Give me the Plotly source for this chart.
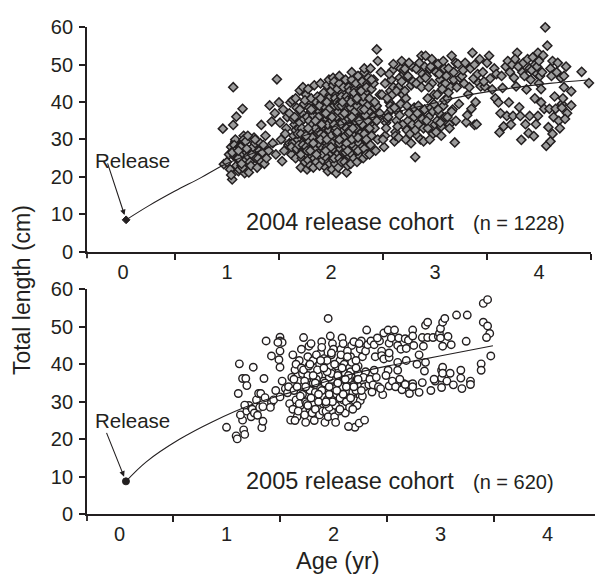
import plotly.graph_objects as go

# ---------------- data ----------------
AGE_2004 = [
    0.97, 1.05, 0.96, 1.06, 1.00, 1.02, 1.04, 1.03, 1.07, 1.08,
    1.04, 1.06, 1.08, 1.09, 1.10, 1.11, 1.05, 1.07, 1.09, 1.06,
    1.12, 1.13, 1.14, 1.10, 1.15, 1.16, 1.11, 1.14, 1.15, 1.12,
    1.17, 1.18, 1.19, 1.13, 1.16, 1.20, 1.11, 1.15, 1.18, 1.14,
    1.21, 1.22, 1.24, 1.25, 1.26, 1.28, 1.19, 1.23, 1.27, 1.20,
    1.29, 1.30, 1.31, 1.32, 1.33, 1.34, 1.35, 1.27, 1.33, 1.36,
    1.43, 1.41, 1.38, 1.40, 1.44, 1.46, 1.50, 1.48, 1.47, 1.37,
    1.53, 1.55, 1.52, 1.57, 1.58, 1.59, 1.56, 1.54, 1.60, 1.51,
    1.61, 1.62, 1.63, 1.64, 1.65, 1.60, 1.62, 1.66, 1.64, 1.63,
    1.70, 1.66, 1.67, 1.68, 1.69, 1.65, 1.67, 1.69, 1.68, 1.66,
    1.71, 1.72, 1.73, 1.74, 1.75, 1.70, 1.72, 1.74, 1.76, 1.73,
    1.75, 1.71, 1.73, 1.76, 1.72, 1.74, 1.70, 1.75, 1.71, 1.76,
    1.77, 1.78, 1.79, 1.80, 1.81, 1.82, 1.77, 1.79, 1.81, 1.78,
    1.80, 1.82, 1.76, 1.78, 1.80, 1.79, 1.81, 1.77, 1.82, 1.79,
    1.83, 1.84, 1.85, 1.86, 1.87, 1.88, 1.83, 1.85, 1.87, 1.84,
    1.86, 1.88, 1.84, 1.82, 1.85, 1.87, 1.83, 1.86, 1.88, 1.84,
    1.89, 1.90, 1.91, 1.92, 1.93, 1.94, 1.89, 1.91, 1.93, 1.90,
    1.92, 1.94, 1.88, 1.90, 1.93, 1.91, 1.89, 1.94, 1.92, 1.90,
    1.95, 1.96, 1.97, 1.98, 1.99, 2.00, 1.95, 1.97, 1.99, 1.96,
    1.98, 2.00, 1.96, 1.94, 1.97, 1.99, 1.95, 1.98, 2.00, 1.96,
    1.97, 1.99, 1.95, 1.98, 1.96, 2.00, 1.98, 1.95, 1.97, 1.99,
    2.01, 2.02, 2.03, 2.04, 2.05, 2.06, 2.01, 2.03, 2.05, 2.02,
    2.04, 2.06, 2.02, 2.00, 2.03, 2.05, 2.01, 2.04, 2.06, 2.02,
    2.03, 2.05, 2.01, 2.06, 2.02, 2.04, 2.00, 2.05, 2.03, 2.01,
    2.07, 2.08, 2.09, 2.10, 2.11, 2.12, 2.07, 2.09, 2.11, 2.08,
    2.10, 2.12, 2.08, 2.06, 2.09, 2.11, 2.07, 2.10, 2.12, 2.08,
    2.15, 2.13, 2.14, 2.15, 2.16, 2.17, 2.18, 2.13, 2.15, 2.17,
    2.16, 2.18, 2.14, 2.12, 2.15, 2.17, 2.13, 2.16, 2.18, 2.14,
    2.19, 2.20, 2.21, 2.22, 2.23, 2.24, 2.19, 2.21, 2.23, 2.20,
    2.22, 2.24, 2.20, 2.18, 2.21, 2.23, 2.19, 2.22, 2.24, 2.20,
    2.25, 2.26, 2.27, 2.28, 2.29, 2.30, 2.25, 2.27, 2.29, 2.26,
    2.28, 2.30, 2.26, 2.24, 2.27, 2.29, 2.25, 2.28, 2.30, 2.26,
    2.31, 2.32, 2.33, 2.34, 2.35, 2.36, 2.31, 2.33, 2.35, 2.32,
    2.34, 2.36, 2.32, 2.30, 2.33, 2.35, 2.31, 2.34, 2.36, 2.32,
    2.37, 2.38, 2.39, 2.40, 2.41, 2.42, 2.37, 2.39, 2.41, 2.38,
    2.43, 2.45, 2.42, 2.46, 2.44, 2.47, 2.41, 2.48, 2.44, 2.45,
    1.78, 1.83, 1.88, 1.93, 1.98, 2.03, 2.08, 2.13, 2.18, 2.23,
    1.80, 1.85, 1.90, 1.95, 2.00, 2.05, 2.10, 2.15, 2.20, 2.25,
    1.76, 1.81, 1.86, 1.91, 1.96, 2.01, 2.06, 2.11, 2.16, 2.21,
    2.27, 2.32, 2.37, 2.42, 2.47, 2.29, 2.34, 2.39, 2.44, 2.49,
    2.51, 2.52, 2.53, 2.55, 2.56, 2.57, 2.58, 2.59, 2.60, 2.54,
    2.50, 2.53, 2.55, 2.57, 2.59, 2.52, 2.56, 2.58, 2.54, 2.60,
    2.61, 2.62, 2.63, 2.64, 2.65, 2.66, 2.67, 2.68, 2.69, 2.70,
    2.62, 2.64, 2.66, 2.68, 2.70, 2.61, 2.63, 2.65, 2.67, 2.69,
    2.71, 2.72, 2.73, 2.74, 2.75, 2.76, 2.77, 2.78, 2.79, 2.80,
    2.72, 2.74, 2.76, 2.78, 2.80, 2.71, 2.73, 2.75, 2.77, 2.79,
    2.81, 2.82, 2.83, 2.84, 2.85, 2.86, 2.87, 2.88, 2.89, 2.90,
    2.82, 2.84, 2.86, 2.88, 2.90, 2.81, 2.83, 2.85, 2.87, 2.89,
    2.91, 2.92, 2.93, 2.94, 2.95, 2.96, 2.97, 2.98, 2.99, 3.00,
    2.92, 2.94, 2.96, 2.98, 3.00, 2.91, 2.93, 2.95, 2.97, 2.99,
    3.01, 3.02, 3.03, 3.04, 3.05, 3.06, 3.07, 3.08, 3.09, 3.10,
    3.02, 3.04, 3.06, 3.08, 3.10, 3.03, 3.05, 3.07, 3.09, 3.01,
    3.11, 3.12, 3.13, 3.14, 3.15, 3.16, 3.17, 3.18, 3.19, 3.20,
    3.12, 3.14, 3.16, 3.18, 3.20, 3.22, 3.24, 3.21, 3.23, 3.13,
    3.26, 3.28, 3.30, 3.32, 3.34, 3.36, 3.38, 3.35, 3.29, 3.33,
    3.27, 3.31, 3.37, 3.40, 3.42, 3.44, 3.38, 3.41, 3.39, 3.43,
    3.46, 3.48, 3.50, 3.52, 3.53, 3.55, 3.57, 3.58, 3.47, 3.59,
    3.61, 3.62, 3.63, 3.65, 3.66, 3.68, 3.69, 3.70, 3.71, 3.64,
    3.72, 3.73, 3.74, 3.75, 3.76, 3.78, 3.79, 3.80, 3.81, 3.77,
    3.82, 3.83, 3.84, 3.85, 3.86, 3.87, 3.88, 3.89, 3.90, 3.91,
    3.92, 3.93, 3.94, 3.95, 3.96, 3.97, 3.98, 3.99, 4.00, 3.91,
    3.96, 3.98, 4.00, 4.01, 4.02, 4.03, 4.04, 4.05, 3.99, 4.02,
    4.06, 4.07, 4.08, 4.09, 4.10, 4.11, 4.12, 4.13, 4.14, 4.15,
    4.16, 4.17, 4.18, 4.19, 4.20, 4.21, 4.22, 4.24, 4.11, 4.13,
    4.27, 4.31, 4.31, 4.41, 4.48, 4.25, 4.23, 4.26, 4.22, 4.24,
]
LEN_2004 = [
    23.4, 19.3, 32.9, 44.0, 24.0, 26.0, 28.0, 22.0, 25.5, 29.5,
    20.5, 27.0, 30.0, 23.0, 25.0, 21.5, 26.5, 28.5, 36.1, 33.9,
    22.0, 24.0, 26.0, 27.5, 29.0, 31.0, 25.0, 23.0, 38.2, 28.0,
    21.0, 24.5, 26.5, 28.0, 30.0, 25.5, 27.0, 22.5, 29.5, 23.5,
    21.2, 24.0, 26.0, 28.0, 30.5, 25.0, 27.5, 23.0, 29.0, 31.0,
    22.5, 25.0, 27.0, 29.0, 24.0, 26.5, 28.5, 30.0, 33.9, 23.5,
    34.8, 39.1, 25.0, 27.0, 29.0, 37.0, 39.9, 46.1, 26.0, 31.0,
    24.2, 27.0, 30.0, 33.0, 36.0, 28.5, 31.5, 38.0, 29.0, 34.5,
    39.9, 26.0, 29.0, 31.0, 34.0, 37.0, 28.0, 32.5, 35.5, 40.5,
    43.1, 25.0, 27.5, 30.0, 33.0, 36.0, 38.5, 28.5, 31.5, 41.0,
    22.5, 25.0, 27.0, 29.5, 32.0, 34.5, 37.0, 39.5, 42.0, 44.0,
    24.0, 26.0, 28.5, 30.5, 33.0, 35.5, 38.0, 40.5, 31.5, 27.5,
    22.0, 24.5, 26.5, 29.0, 31.0, 33.5, 36.0, 38.5, 41.0, 43.5,
    23.0, 25.5, 28.0, 30.0, 32.5, 35.0, 37.5, 27.0, 34.0, 29.5,
    22.5, 25.0, 27.0, 29.5, 31.5, 34.0, 36.5, 39.0, 41.5, 44.5,
    24.0, 26.5, 28.5, 30.5, 33.0, 35.5, 38.0, 40.0, 32.0, 27.5,
    23.0, 25.5, 28.0, 30.0, 32.5, 35.0, 37.5, 40.0, 42.5, 45.0,
    24.5, 27.0, 29.0, 31.5, 34.0, 36.5, 39.0, 33.0, 26.0, 41.0,
    22.5, 25.0, 27.5, 30.0, 32.0, 34.5, 37.0, 39.5, 42.0, 44.5,
    24.0, 26.5, 29.0, 31.0, 33.5, 36.0, 38.5, 41.0, 35.0, 28.0,
    21.5, 23.5, 30.5, 32.5, 40.0, 43.0, 46.0, 27.0, 34.0, 37.5,
    22.0, 24.5, 27.0, 29.5, 32.0, 34.5, 37.0, 39.5, 42.0, 44.5,
    23.5, 26.0, 28.5, 31.0, 33.5, 36.0, 38.5, 41.0, 43.5, 46.5,
    25.0, 30.0, 35.0, 40.0, 27.5, 32.5, 37.5, 21.0, 45.5, 29.0,
    22.5, 25.0, 27.5, 30.0, 32.5, 35.0, 37.5, 40.0, 42.5, 45.0,
    24.0, 26.5, 29.0, 31.5, 34.0, 36.5, 39.0, 41.5, 44.0, 47.0,
    21.2, 24.0, 26.5, 29.0, 31.5, 34.0, 36.5, 39.0, 41.5, 44.0,
    23.0, 25.5, 28.0, 30.5, 33.0, 35.5, 38.0, 40.5, 43.0, 46.0,
    23.5, 26.0, 28.5, 31.0, 33.5, 36.0, 38.5, 41.0, 43.5, 46.0,
    25.0, 27.5, 30.0, 32.5, 35.0, 37.5, 40.0, 42.5, 45.0, 48.0,
    24.0, 26.5, 29.0, 31.5, 34.0, 36.5, 39.0, 41.5, 44.0, 47.0,
    25.5, 28.0, 30.5, 33.0, 35.5, 38.0, 40.5, 43.0, 45.5, 27.0,
    25.0, 27.5, 30.0, 32.5, 35.0, 37.5, 40.0, 42.5, 45.0, 48.0,
    26.0, 29.0, 31.5, 34.0, 36.5, 39.0, 41.5, 44.0, 46.5, 49.0,
    26.0, 28.5, 31.0, 33.5, 36.0, 38.5, 41.0, 43.5, 46.0, 49.0,
    27.0, 30.0, 33.0, 36.0, 39.0, 42.0, 45.0, 48.0, 54.1, 51.0,
    33.0, 29.0, 36.0, 31.0, 38.0, 34.0, 30.0, 37.0, 32.0, 35.0,
    27.0, 35.0, 30.0, 37.0, 28.0, 33.0, 39.0, 29.0, 36.0, 41.0,
    31.0, 38.0, 26.0, 34.0, 30.0, 36.0, 32.0, 40.0, 27.0, 33.0,
    35.0, 38.0, 33.0, 40.0, 37.0, 43.0, 30.0, 46.0, 35.0, 42.0,
    28.0, 31.0, 34.5, 37.0, 40.0, 43.0, 46.0, 48.5, 50.2, 35.5,
    30.0, 33.0, 36.0, 39.0, 42.0, 45.0, 47.5, 38.0, 41.0, 44.0,
    29.5, 32.0, 35.0, 37.5, 44.0, 46.5, 49.0, 51.0, 34.0, 47.5,
    31.0, 33.5, 36.5, 45.5, 48.5, 38.5, 43.0, 30.5, 39.5, 42.0,
    48.9, 30.0, 32.5, 35.0, 37.0, 46.0, 44.5, 49.5, 33.5, 36.0,
    41.0, 47.0, 31.5, 34.0, 38.5, 43.0, 39.0, 50.5, 29.0, 45.5,
    25.3, 48.9, 31.0, 34.0, 36.5, 46.0, 52.4, 47.5, 33.0, 38.0,
    45.0, 39.0, 30.0, 35.5, 49.5, 32.5, 37.0, 50.5, 44.0, 29.5,
    52.4, 47.0, 33.0, 36.0, 48.9, 38.5, 45.0, 31.5, 42.0, 50.0,
    35.0, 44.0, 49.5, 37.5, 34.0, 46.5, 41.0, 30.0, 51.5, 39.5,
    48.0, 35.0, 50.2, 37.0, 46.0, 33.5, 44.5, 39.0, 49.0, 36.0,
    42.0, 47.5, 31.0, 51.0, 45.0, 38.0, 34.5, 43.5, 40.5, 32.0,
    47.0, 36.0, 49.0, 34.0, 44.0, 52.4, 38.0, 46.0, 29.2, 50.5,
    41.0, 33.0, 37.5, 48.0, 35.0, 50.2, 46.5, 44.0, 39.5, 42.5,
    47.0, 45.0, 34.6, 42.1, 49.0, 53.2, 33.9, 38.2, 50.5, 44.0,
    48.5, 36.5, 46.3, 34.1, 45.1, 44.2, 50.0, 47.5, 40.0, 51.5,
    48.0, 44.2, 50.5, 52.4, 46.3, 43.4, 49.0, 41.0, 45.5, 47.5,
    39.9, 31.9, 37.0, 43.8, 33.5, 49.5, 36.3, 51.0, 39.9, 47.0,
    48.0, 34.0, 50.0, 36.3, 46.5, 44.2, 53.2, 49.5, 38.6, 51.5,
    36.3, 29.9, 48.0, 50.5, 47.0, 34.1, 43.4, 51.5, 31.7, 49.0,
    46.0, 48.5, 52.0, 30.9, 50.0, 34.1, 47.5, 53.2, 45.0, 36.3,
    41.0, 49.5, 51.0, 47.0, 39.9, 48.0, 52.5, 38.2, 36.3, 43.5,
    60.0, 28.3, 55.1, 33.3, 38.2, 49.0, 47.0, 51.0, 36.0, 41.5,
    38.2, 48.0, 50.5, 35.0, 33.0, 46.5, 39.5, 44.0, 29.5, 31.5,
    37.0, 42.9, 39.1, 48.1, 45.1, 35.5, 41.0, 49.5, 38.5, 47.0,
]

AGE_2005 = [
    1.00, 1.09, 1.10, 1.16, 1.17, 1.15, 1.13, 1.19, 1.21, 1.23,
    1.11, 1.12, 1.15, 1.18, 1.19, 1.25, 1.17, 1.24, 1.26, 1.28,
    1.29, 1.30, 1.31, 1.32, 1.33, 1.34, 1.35, 1.36, 1.37, 1.34,
    1.42, 1.42, 1.41, 1.44, 1.46, 1.49, 1.50, 1.50, 1.50, 1.52,
    1.48, 1.50, 1.50, 1.52, 1.55, 1.57, 1.58, 1.60, 1.59, 1.61,
    1.62, 1.63, 1.64, 1.65, 1.66, 1.67, 1.68, 1.69, 1.70, 1.71,
    1.63, 1.65, 1.67, 1.69, 1.71, 1.62, 1.64, 1.66, 1.68, 1.70,
    1.72, 1.73, 1.74, 1.75, 1.76, 1.77, 1.78, 1.79, 1.80, 1.81,
    1.72, 1.74, 1.76, 1.78, 1.80, 1.73, 1.75, 1.77, 1.79, 1.81,
    1.82, 1.83, 1.84, 1.85, 1.86, 1.87, 1.88, 1.89, 1.90, 1.91,
    1.83, 1.85, 1.87, 1.89, 1.91, 1.82, 1.84, 1.86, 1.88, 1.90,
    1.92, 1.93, 1.94, 1.95, 1.96, 1.97, 1.98, 1.99, 2.00, 1.95,
    1.92, 1.94, 1.96, 1.98, 2.00, 1.93, 1.95, 1.97, 1.99, 1.96,
    2.01, 2.02, 2.03, 2.04, 2.05, 2.06, 2.07, 2.08, 2.09, 2.10,
    2.01, 2.03, 2.05, 2.07, 2.09, 2.02, 2.04, 2.06, 2.08, 2.10,
    2.11, 2.12, 2.13, 2.14, 2.15, 2.16, 2.17, 2.18, 2.19, 2.20,
    2.11, 2.13, 2.15, 2.17, 2.19, 2.12, 2.14, 2.16, 2.18, 2.20,
    2.21, 2.22, 2.23, 2.24, 2.25, 2.26, 2.27, 2.28, 2.29, 2.30,
    2.21, 2.23, 2.25, 2.27, 2.29, 2.22, 2.24, 2.26, 2.28, 2.30,
    1.74, 1.79, 1.84, 1.89, 1.94, 1.99, 2.04, 2.09, 2.14, 2.19,
    1.76, 1.81, 1.86, 1.91, 1.96, 2.01, 2.06, 2.11, 2.16, 2.21,
    1.78, 1.83, 1.88, 1.93, 1.98, 2.03, 2.08, 2.13, 2.18, 2.23,
    2.31, 2.32, 2.35, 2.38, 2.38, 2.36, 2.33, 2.34, 2.37, 2.39,
    2.40, 2.43, 2.45, 2.45, 2.46, 2.47, 2.47, 2.42, 2.44, 2.41,
    2.51, 2.52, 2.52, 2.52, 2.54, 2.51, 2.57, 2.52, 2.55, 2.49,
    2.60, 2.60, 2.61, 2.63, 2.60, 2.66, 2.67, 2.58, 2.64, 2.62,
    2.68, 2.70, 2.71, 2.74, 2.74, 2.75, 2.74, 2.71, 2.67, 2.68,
    2.74, 2.78, 2.80, 2.80, 2.83, 2.83, 2.84, 2.85, 2.86, 2.86,
    2.88, 2.88, 2.93, 2.95, 2.98, 2.99, 3.00, 3.00, 3.01, 3.01,
    3.01, 3.02, 3.02, 3.02, 3.02, 3.04, 3.06, 3.07, 3.09, 3.10,
    3.15, 3.19, 3.19, 3.24, 3.25, 3.28, 3.28, 3.38, 3.38, 3.40,
    3.40, 3.44, 3.44, 3.46, 3.43, 3.47, 3.20, 3.12, 2.94, 2.91,
]
LEN_2005 = [
    23.2, 20.9, 20.1, 22.5, 21.3, 25.1, 26.5, 27.5, 29.0, 26.0,
    32.2, 40.1, 36.2, 36.2, 34.3, 39.2, 29.1, 28.0, 27.0, 30.5,
    26.4, 32.2, 28.5, 32.2, 23.1, 24.8, 36.2, 31.1, 46.2, 28.7,
    42.2, 29.8, 28.5, 30.5, 33.0, 41.2, 47.2, 46.2, 43.5, 45.8,
    45.8, 39.2, 31.3, 35.5, 33.5, 32.4, 34.0, 25.1, 29.5, 36.5,
    28.0, 33.0, 38.5, 30.5, 26.0, 35.5, 41.0, 29.0, 44.0, 32.0,
    36.0, 40.0, 27.5, 31.5, 37.5, 42.5, 25.0, 34.0, 29.5, 39.0,
    47.1, 26.5, 30.0, 33.5, 37.0, 44.8, 28.0, 40.5, 31.5, 35.0,
    38.5, 24.5, 42.0, 33.0, 27.0, 35.5, 29.5, 39.5, 45.5, 41.0,
    25.0, 28.0, 31.0, 34.0, 37.0, 40.0, 43.0, 46.0, 29.5, 35.5,
    32.5, 38.5, 26.5, 44.5, 41.5, 36.0, 42.5, 30.0, 33.5, 27.5,
    24.5, 27.5, 30.5, 33.5, 36.5, 39.5, 42.5, 45.5, 31.5, 52.2,
    35.0, 41.0, 28.5, 37.5, 44.0, 29.5, 26.0, 47.5, 34.0, 32.0,
    26.0, 29.0, 32.0, 35.0, 38.0, 41.0, 44.0, 47.0, 30.5, 36.5,
    33.5, 39.5, 27.5, 42.5, 45.5, 24.5, 37.0, 31.0, 34.0, 40.0,
    27.0, 30.0, 33.0, 36.0, 39.0, 42.0, 45.0, 31.5, 34.5, 23.2,
    37.5, 43.5, 28.5, 40.5, 46.0, 34.0, 23.4, 38.0, 32.5, 30.3,
    33.0, 36.0, 39.5, 24.3, 30.3, 46.2, 42.0, 35.5, 25.1, 38.0,
    41.0, 37.5, 44.0, 31.5, 34.0, 29.0, 45.5, 33.0, 36.5, 43.5,
    34.0, 31.0, 36.0, 33.0, 38.0, 30.0, 35.0, 32.0, 37.0, 34.0,
    29.0, 37.0, 32.0, 39.0, 34.0, 40.0, 28.0, 36.0, 31.0, 39.0,
    40.0, 35.0, 41.0, 30.0, 43.0, 33.0, 39.0, 42.0, 28.0, 36.0,
    49.1, 45.2, 46.2, 45.2, 38.4, 32.6, 34.5, 36.0, 34.5, 42.0,
    36.5, 46.2, 43.5, 42.3, 31.9, 48.3, 41.4, 34.0, 33.5, 47.0,
    49.1, 45.6, 41.8, 43.0, 47.0, 38.4, 49.1, 34.2, 35.5, 37.0,
    45.0, 40.5, 47.0, 44.0, 38.4, 34.8, 46.8, 34.0, 33.2, 36.0,
    44.2, 46.4, 34.5, 49.1, 47.5, 45.0, 34.8, 32.2, 34.6, 41.0,
    34.0, 40.0, 32.5, 42.5, 35.1, 47.1, 44.8, 38.2, 50.4, 40.5,
    51.2, 47.1, 47.1, 35.5, 47.4, 48.2, 49.5, 47.0, 38.4, 36.3,
    33.8, 51.2, 44.8, 39.2, 37.6, 52.2, 35.5, 47.4, 37.6, 45.2,
    53.1, 38.4, 36.3, 46.1, 53.1, 35.5, 34.6, 40.1, 38.4, 51.2,
    56.2, 57.2, 50.2, 48.2, 47.1, 42.2, 33.5, 34.5, 36.0, 33.0,
]

# growth curves
CURVE_AGE_2004 = [0.03, 0.25, 0.50, 0.75, 0.97, 1.25, 1.50, 2.00, 2.54, 3.00, 3.34, 3.75, 4.10, 4.47]
CURVE_LEN_2004 = [8.5, 12.3, 16.2, 19.8, 23.2, 26.3, 28.8, 33.2, 36.8, 39.8, 42.0, 43.8, 45.0, 45.9]
CURVE_AGE_2005 = [0.06, 0.25, 0.56, 0.87, 1.25, 1.60, 2.00, 2.18, 2.50, 2.83, 3.20, 3.49]
CURVE_LEN_2005 = [8.8, 14.0, 20.0, 24.7, 29.4, 32.5, 36.0, 37.5, 39.5, 41.3, 43.3, 44.9]

RELEASE_AGE = [0.03, 0.06]
RELEASE_LEN = [8.5, 8.8]

X_LABELS = [0, 1, 2, 3, 4]
X_BREAKS = [0.5, 1.5, 2.5, 3.5, 4.5]
Y_TICKS = [0, 10, 20, 30, 40, 50, 60]

COHORT_TEXT = ["2004 release cohort", "2005 release cohort"]
N_TEXT = ["(n = 1228)", "(n = 620)"]

# ---------------- styling ----------------
W, H = 595, 586
INK = "#231f20"
FONT = "Liberation Sans, Arial, Helvetica, sans-serif"


def fx(p):
    return p / W


def fy(p):
    return 1 - p / H


fig = go.Figure()

# 2004 panel
fig.add_trace(go.Scatter(
    x=AGE_2004, y=LEN_2004, mode="markers", xaxis="x", yaxis="y",
    marker=dict(symbol="diamond", size=7, color="#9c9c9c",
                line=dict(color=INK, width=1.5)),
    cliponaxis=False, hoverinfo="skip", showlegend=False))
fig.add_trace(go.Scatter(
    x=CURVE_AGE_2004, y=CURVE_LEN_2004, mode="lines", xaxis="x", yaxis="y",
    line=dict(color=INK, width=1.1, shape="spline"),
    hoverinfo="skip", showlegend=False))
fig.add_trace(go.Scatter(
    x=[RELEASE_AGE[0]], y=[RELEASE_LEN[0]], mode="markers", xaxis="x", yaxis="y",
    marker=dict(symbol="diamond", size=6, color=INK, line=dict(color=INK, width=1)),
    hoverinfo="skip", showlegend=False))

# 2005 panel
fig.add_trace(go.Scatter(
    x=AGE_2005, y=LEN_2005, mode="markers", xaxis="x2", yaxis="y2",
    marker=dict(symbol="circle", size=7.5, color="white",
                line=dict(color=INK, width=1.4)),
    cliponaxis=False, hoverinfo="skip", showlegend=False))
fig.add_trace(go.Scatter(
    x=CURVE_AGE_2005, y=CURVE_LEN_2005, mode="lines", xaxis="x2", yaxis="y2",
    line=dict(color=INK, width=1.1, shape="spline"),
    hoverinfo="skip", showlegend=False))
fig.add_trace(go.Scatter(
    x=[RELEASE_AGE[1]], y=[RELEASE_LEN[1]], mode="markers", xaxis="x2", yaxis="y2",
    marker=dict(symbol="circle", size=7, color=INK, line=dict(color=INK, width=1)),
    hoverinfo="skip", showlegend=False))

xcommon = dict(
    tickvals=X_LABELS, ticktext=[str(v) for v in X_LABELS], ticks="",
    showline=True, linecolor=INK, linewidth=1.8, showgrid=False, zeroline=False,
    tickfont=dict(size=20, color=INK, family=FONT), ticklabelstandoff=1,
    minor=dict(tickvals=X_BREAKS, ticks="outside", ticklen=6, tickwidth=1.6,
               tickcolor=INK, showgrid=False),
)
ycommon = dict(
    range=[0, 60], tickvals=Y_TICKS, ticks="outside", ticklen=6, tickwidth=1.6,
    tickcolor=INK, showline=True, linecolor=INK, linewidth=1.8,
    showgrid=False, zeroline=False,
    tickfont=dict(size=20, color=INK, family=FONT), ticklabelstandoff=2,
)

annotations = [
    dict(text="Total length (cm)", x=fx(22), y=fy(290), xref="paper", yref="paper",
         textangle=-90, showarrow=False, font=dict(size=23, color=INK, family=FONT),
         xanchor="center", yanchor="middle"),
    dict(text="Age (yr)", x=fx(338), y=fy(571), xref="paper", yref="paper",
         showarrow=False, font=dict(size=23.5, color=INK, family=FONT),
         xanchor="center", yanchor="middle"),
]
for i, (xr, yr, ax, ay, rel_y, coh_y) in enumerate([
        ("x", "y", -19, -58, 155, 219),
        ("x2", "y2", -20, -50, 425, 488)]):
    annotations.append(dict(
        x=RELEASE_AGE[i], y=RELEASE_LEN[i], xref=xr, yref=yr, text="",
        showarrow=True, arrowhead=2, arrowsize=1, arrowwidth=1.1, arrowcolor=INK,
        ax=ax, ay=ay, standoff=5))
    annotations.append(dict(
        text="Release", x=fx(93), y=fy(rel_y), xref="paper", yref="paper",
        showarrow=False, xanchor="left", yanchor="middle",
        font=dict(size=20.5, color=INK, family=FONT)))
    annotations.append(dict(
        text=COHORT_TEXT[i], x=fx(244), y=fy(coh_y), xref="paper", yref="paper",
        showarrow=False, xanchor="left", yanchor="middle",
        font=dict(size=23.5, color=INK, family=FONT)))
    annotations.append(dict(
        text=N_TEXT[i], x=fx(471), y=fy(coh_y + 1), xref="paper", yref="paper",
        showarrow=False, xanchor="left", yanchor="middle",
        font=dict(size=20, color=INK, family=FONT)))

shapes = [
    dict(type="line", xref="paper", yref="paper", x0=fx(87), x1=fx(87),
         y0=fy(250), y1=fy(257), line=dict(color=INK, width=1.8)),
    dict(type="line", xref="paper", yref="paper", x0=fx(87), x1=fx(87),
         y0=fy(523), y1=fy(530), line=dict(color=INK, width=1.8)),
]

fig.update_layout(
    width=W, height=H, margin=dict(l=0, r=0, t=0, b=0),
    paper_bgcolor="white", plot_bgcolor="white",
    font=dict(family=FONT, color=INK),
    xaxis=dict(domain=[fx(87), fx(591)], anchor="y", range=[-0.346, 4.5], **xcommon),
    yaxis=dict(domain=[fy(250), fy(17)], anchor="x", **ycommon),
    xaxis2=dict(domain=[fx(87), fx(595)], anchor="y2", range=[-0.304, 4.444], **xcommon),
    yaxis2=dict(domain=[fy(523), fy(289)], anchor="x2", **ycommon),
    annotations=annotations, shapes=shapes,
)

fig.write_html("out.html")
